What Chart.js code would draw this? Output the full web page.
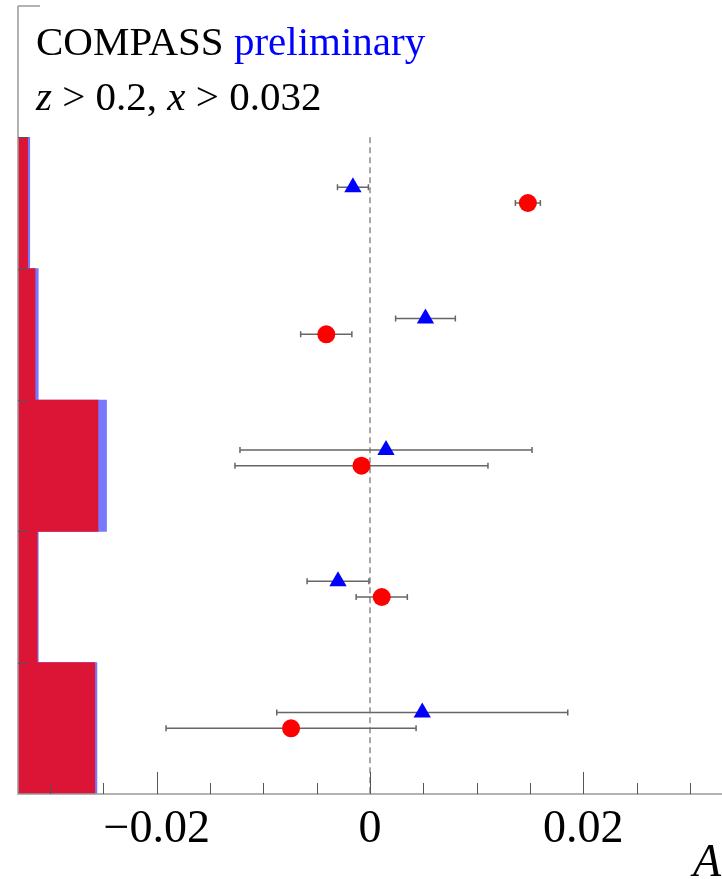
<!DOCTYPE html>
<html>
<head>
<meta charset="utf-8">
<script src="https://cdn.jsdelivr.net/npm/chart.js@4.4.0/dist/chart.umd.min.js"></script>
<style>
  body { margin: 0; background: #fff; }
  #wrap { position: relative; width: 722px; height: 879px; }
</style>
</head>
<body>
<div id="wrap"><canvas id="asymChart" width="722" height="879"></canvas></div>
<script>
// bins listed from top to bottom
const bins = [1, 2, 3, 4, 5]
const circleA = [0.0148, -0.0041, -0.0008, 0.0011, -0.0074]
const circleErr = [0.00117, 0.0024, 0.01186, 0.0024, 0.01172]
const triangleA = [-0.0016, 0.0052, 0.0015, -0.0030, 0.0049]
const triangleErr = [0.00145, 0.0028, 0.01369, 0.0029, 0.01364]
// systematic bands, drawn from the left edge
const circleSys = [0.0009, 0.0016, 0.0075, 0.0018, 0.0072]
const triangleSys = [0.0011, 0.0019, 0.0083, 0.0019, 0.0074]
const tickMarks = [-0.03, -0.025, -0.02, -0.015, -0.01, -0.005, 0, 0.005, 0.01, 0.015, 0.02, 0.025, 0.03]
const majorTicks = [-0.02, 0, 0.02]

const xMin = -0.033
const xMax = 0.033
const nBins = bins.length
const binY = (i) => nBins - i - 0.5
const triShift = 0.12

const serif = '"Liberation Serif", "DejaVu Serif", serif'

const errorBars = {
  id: 'errorBars',
  beforeDatasetsDraw(chart) {
    const { ctx, scales: { x, y } } = chart
    ctx.save()
    // dashed zero line
    ctx.strokeStyle = '#8a8a8a'
    ctx.lineWidth = 1.5
    ctx.setLineDash([6, 4])
    ctx.beginPath()
    ctx.moveTo(x.getPixelForValue(0), y.getPixelForValue(nBins))
    ctx.lineTo(x.getPixelForValue(0), y.getPixelForValue(0))
    ctx.stroke()
    ctx.setLineDash([])

    ctx.strokeStyle = '#666'
    ctx.lineWidth = 1.5
    const draw = (vals, errs, shift) => {
      vals.forEach((v, i) => {
        const py = y.getPixelForValue(binY(i) + shift)
        const x0 = x.getPixelForValue(v - errs[i])
        const x1 = x.getPixelForValue(v + errs[i])
        ctx.beginPath()
        ctx.moveTo(x0, py)
        ctx.lineTo(x1, py)
        ctx.moveTo(x0, py - 3)
        ctx.lineTo(x0, py + 3)
        ctx.moveTo(x1, py - 3)
        ctx.lineTo(x1, py + 3)
        ctx.stroke()
      })
    }
    draw(triangleA, triangleErr, triShift)
    draw(circleA, circleErr, 0)
    ctx.restore()
  },
  afterDatasetsDraw(chart) {
    const { ctx, chartArea, scales: { x, y } } = chart
    ctx.save()
    ctx.strokeStyle = '#999'
    ctx.lineWidth = 1.5
    const bottom = y.getPixelForValue(0)
    // frame
    ctx.beginPath()
    ctx.moveTo(chartArea.left, chartArea.top)
    ctx.lineTo(chartArea.left, bottom)
    ctx.lineTo(chartArea.right, bottom)
    ctx.moveTo(chartArea.left, chartArea.top)
    ctx.lineTo(chartArea.left + 22, chartArea.top)
    ctx.stroke()

    // inward ticks on bottom axis
    ctx.strokeStyle = '#555'
    ctx.lineWidth = 1
    tickMarks.forEach(t => {
      const px = Math.round(x.getPixelForValue(t)) + 0.5
      const len = majorTicks.includes(t) ? 22 : 11
      ctx.beginPath()
      ctx.moveTo(px, bottom)
      ctx.lineTo(px, bottom - len)
      ctx.stroke()
    })
    // bin ticks on left axis
    for (let b = 1; b <= nBins; b++) {
      const py = Math.round(y.getPixelForValue(b)) + 0.5
      ctx.beginPath()
      ctx.moveTo(chartArea.left, py)
      ctx.lineTo(chartArea.left + 10, py)
      ctx.stroke()
    }

    // texts
    ctx.textBaseline = 'alphabetic'
    ctx.textAlign = 'left'
    ctx.fillStyle = '#000'
    ctx.font = '41px ' + serif
    ctx.fillText('COMPASS ', 36, 55)
    const w = ctx.measureText('COMPASS ').width
    ctx.fillStyle = '#0000ff'
    ctx.fillText('preliminary', 36 + w, 55)

    ctx.fillStyle = '#000'
    let cx = 36
    const part = (txt, italic) => {
      ctx.font = (italic ? 'italic ' : '') + '41px ' + serif
      ctx.fillText(txt, cx, 110)
      cx += ctx.measureText(txt).width
    }
    part('z', true)
    part(' > 0.2, ', false)
    part('x', true)
    part(' > 0.032', false)

    ctx.font = 'italic 46px ' + serif
    ctx.fillText('A', 693, 876)
    ctx.restore()
  }
}

new Chart(document.getElementById('asymChart'), {
  type: 'scatter',
  data: {
    datasets: [
      {
        type: 'scatter',
        label: 'circles',
        data: circleA.map((v, i) => ({ x: v, y: binY(i) })),
        pointStyle: 'circle',
        pointRadius: 9,
        backgroundColor: '#ff0000',
        borderWidth: 0,
        order: 0
      },
      {
        type: 'scatter',
        label: 'triangles',
        data: triangleA.map((v, i) => ({ x: v, y: binY(i) + triShift })),
        pointStyle: 'triangle',
        pointRadius: 10,
        backgroundColor: '#0000ff',
        borderWidth: 0,
        order: 1
      },
      {
        type: 'bar',
        indexAxis: 'y',
        label: 'sys red',
        data: circleSys.map((s, i) => ({ x: [xMin, xMin + s], y: binY(i) })),
        backgroundColor: '#dc1537',
        borderWidth: 0,
        grouped: false,
        categoryPercentage: 1,
        barPercentage: 1,
        order: 2
      },
      {
        type: 'bar',
        indexAxis: 'y',
        label: 'sys blue',
        data: triangleSys.map((s, i) => ({ x: [xMin, xMin + s], y: binY(i) })),
        backgroundColor: '#7878ff',
        borderWidth: 0,
        grouped: false,
        categoryPercentage: 1,
        barPercentage: 1,
        order: 3
      }
    ]
  },
  options: {
    responsive: false,
    animation: false,
    layout: { autoPadding: false, padding: { left: 18, right: 0, top: 6, bottom: 13 } },
    plugins: { legend: { display: false }, tooltip: { enabled: false } },
    scales: {
      x: {
        type: 'linear',
        min: xMin,
        max: xMax,
        offset: false,
        grid: { display: false, drawTicks: false, offset: false },
        border: { display: false },
        ticks: {
          stepSize: 0.02,
          includeBounds: false,
          autoSkip: false,
          maxRotation: 0,
          padding: 13,
          color: '#000',
          font: { family: serif, size: 46, lineHeight: 1 },
          callback: (v) => v === 0 ? '0' : (v < 0 ? '\u2212' : '') + Math.abs(v).toFixed(2)
        }
      },
      y: {
        type: 'linear',
        display: false,
        offset: false,
        grid: { offset: false },
        min: 0,
        max: 6
      }
    }
  },
  plugins: [errorBars]
})
</script>
</body>
</html>
